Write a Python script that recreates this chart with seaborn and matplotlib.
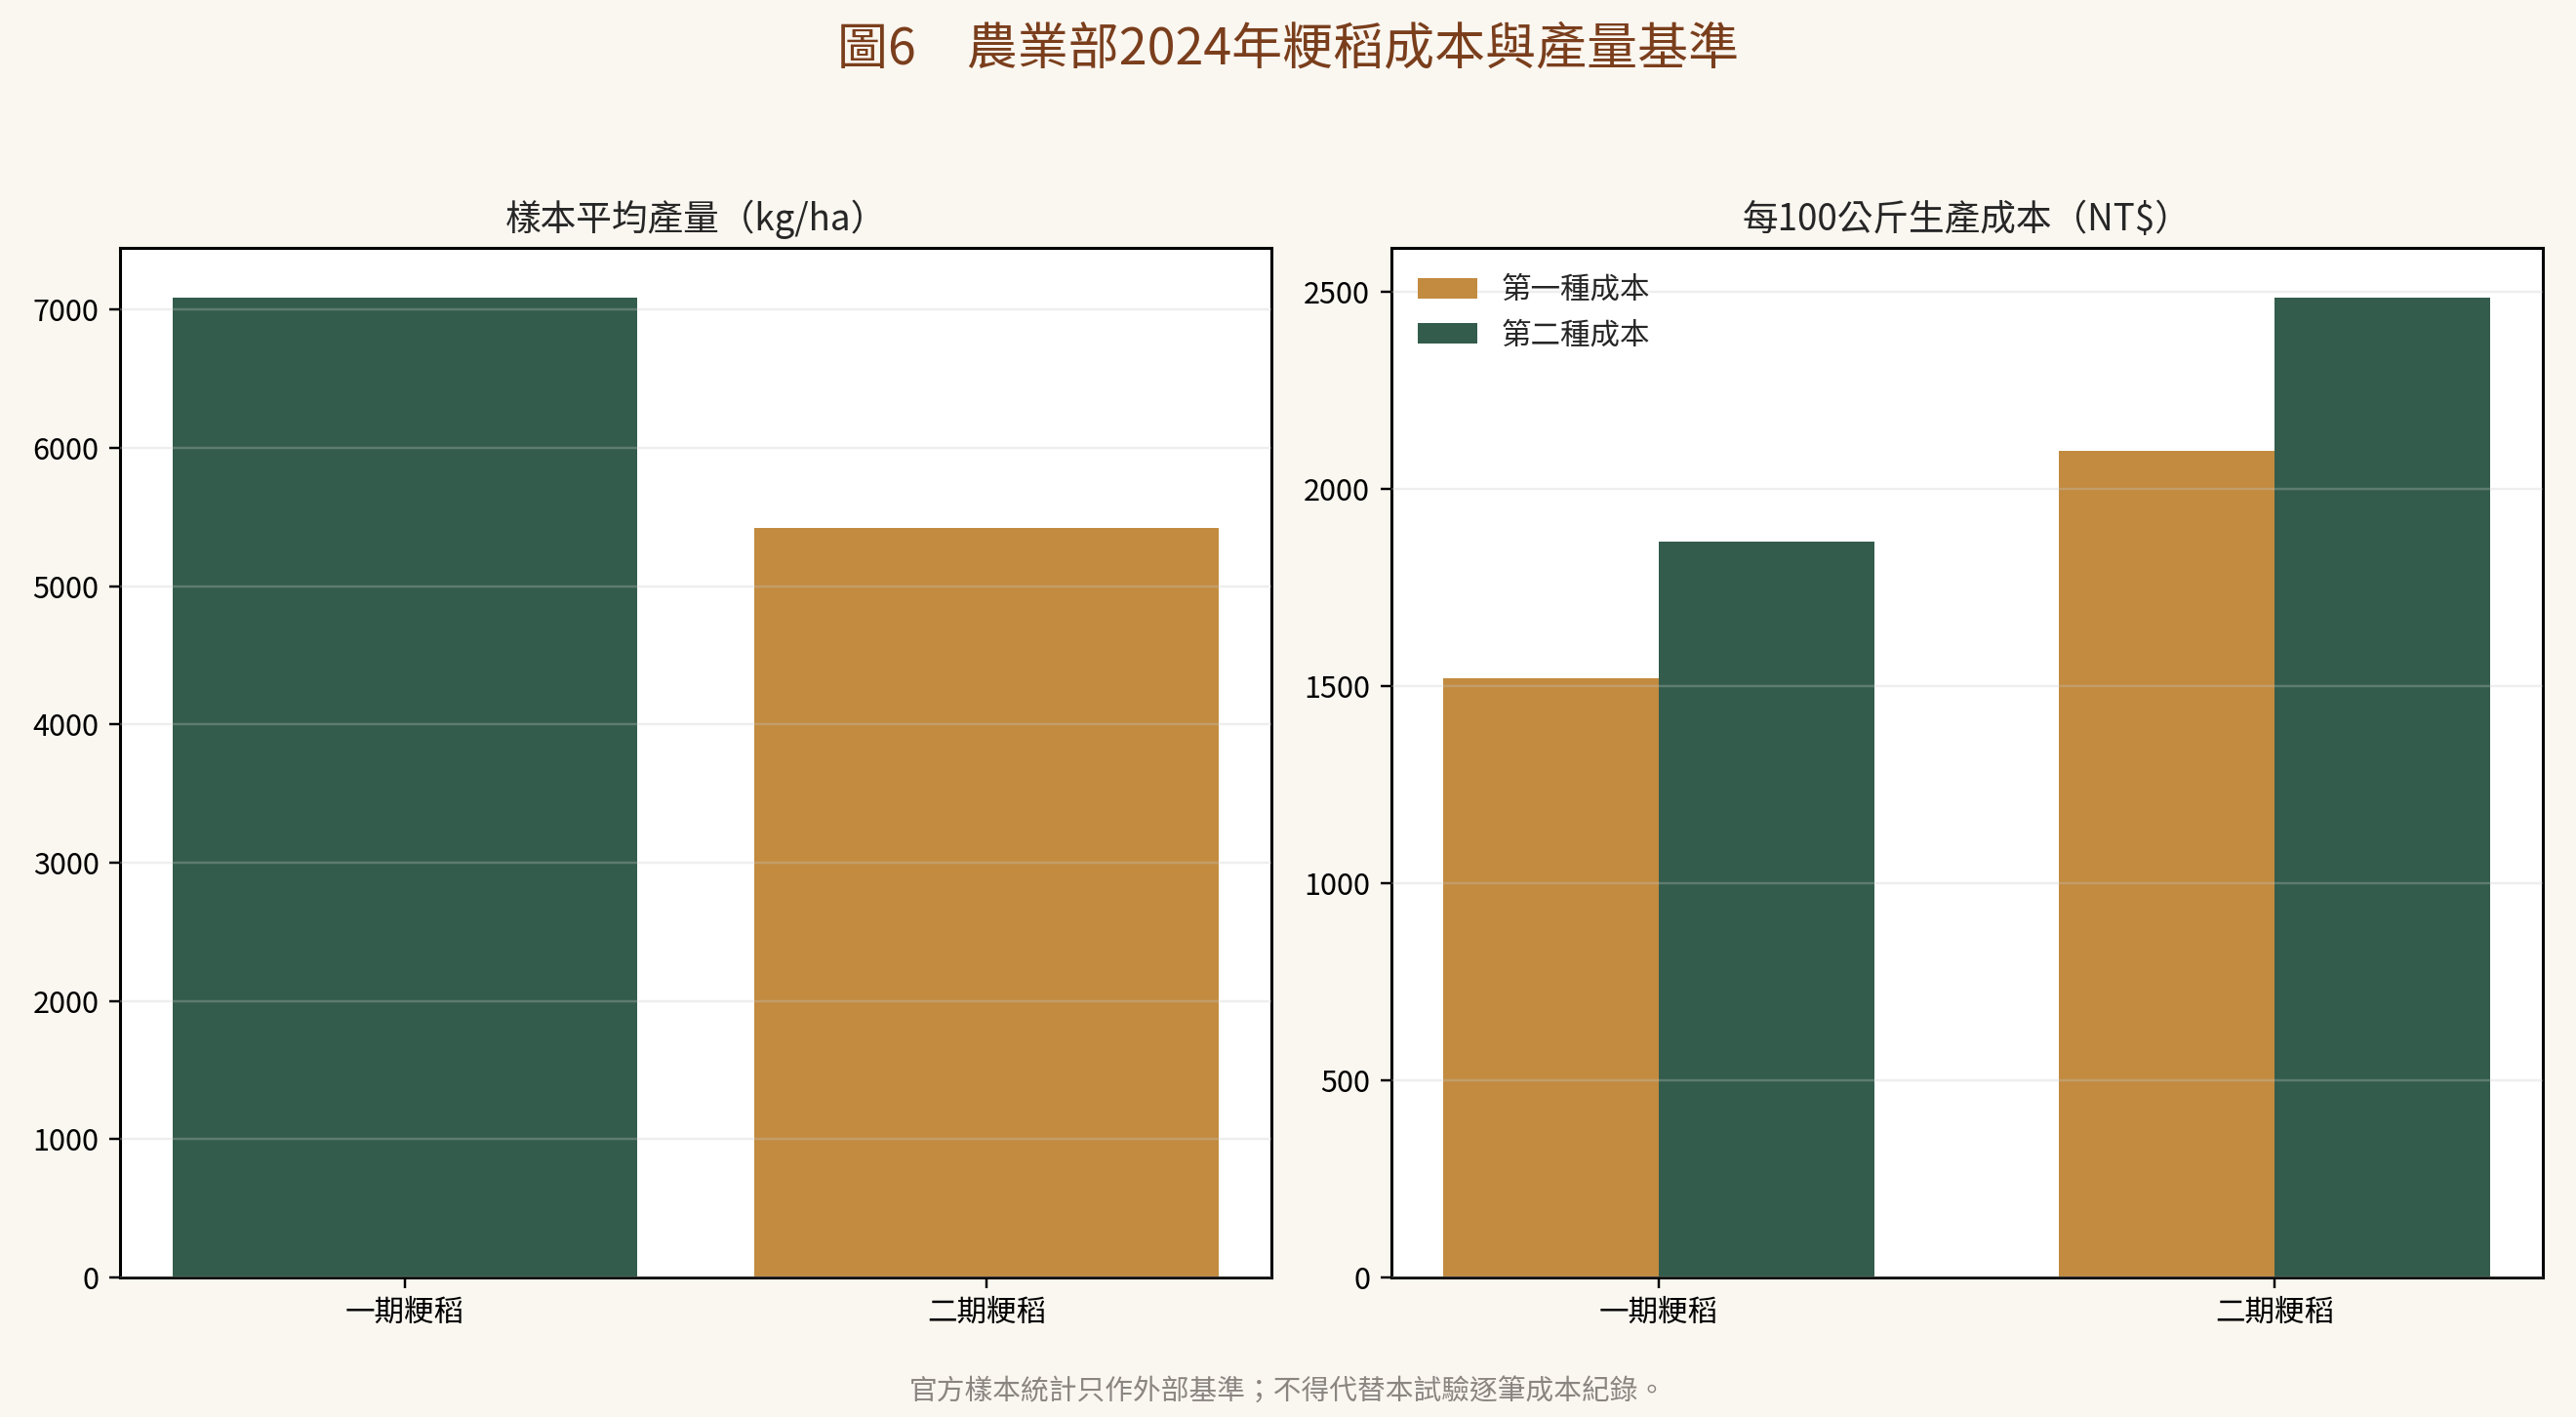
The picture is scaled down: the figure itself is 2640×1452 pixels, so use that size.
import matplotlib
matplotlib.use("Agg")
import matplotlib.pyplot as plt
import seaborn as sns
import pandas as pd

GREEN = "#335C4C"
GOLD = "#C28B40"
BG = "#FAF6F0"

seasons = ["一期粳稻", "二期粳稻"]
yield_kg_ha = [7090, 5420]

cost_types = ["第一種成本", "第二種成本"]
cost_first = [1520, 2096]
cost_second = [1866, 2487]

sns.set_style("ticks")
plt.rcParams["font.family"] = ["Noto Sans CJK TC", "DejaVu Sans"]
plt.rcParams["axes.unicode_minus"] = False

fig = plt.figure(figsize=(12, 6.6), dpi=220, facecolor=BG)
ax1 = fig.add_axes([0.0466, 0.0986, 0.447, 0.7262])
ax2 = fig.add_axes([0.540, 0.0986, 0.447, 0.7262])

# left: yield
sns.barplot(x=seasons, y=yield_kg_ha, hue=seasons, palette=[GREEN, GOLD],
            legend=False, width=0.8, saturation=1, linewidth=0, ax=ax1)
ax1.set_xlim(-0.49, 1.49)
ax1.set_ylim(0, max(yield_kg_ha) * 1.05)
ax1.set_title("樣本平均產量（kg/ha）", fontsize=12, pad=6)

# right: cost per 100 kg
df = pd.DataFrame({
    "season": seasons * 2,
    "cost": cost_first + cost_second,
    "type": [cost_types[0]] * 2 + [cost_types[1]] * 2,
})
sns.barplot(data=df, x="season", y="cost", hue="type", palette=[GOLD, GREEN],
            width=0.7, saturation=1, linewidth=0, ax=ax2)
ax2.set_xlim(-0.435, 1.435)
ax2.set_ylim(0, df["cost"].max() * 1.05)
ax2.set_title("每100公斤生產成本（NT$）", fontsize=12, pad=6)
ax2.legend(loc="upper left", frameon=False, fontsize=10, handlelength=2.0,
           borderaxespad=0.5)

for ax in (ax1, ax2):
    ax.set_facecolor("white")
    ax.set_xlabel("")
    ax.set_ylabel("")
    ax.grid(axis="y", color="#c8c8c8", alpha=0.3, linewidth=0.8)
    ax.set_axisbelow(False)
    ax.tick_params(labelsize=10, colors="black", length=3.5, width=0.8)
    for s in ax.spines.values():
        s.set_color("black")
        s.set_linewidth(1.0)
        s.set_visible(True)

fig.text(0.5, 0.965, "圖6　農業部2024年粳稻成本與產量基準", ha="center",
         va="center", fontsize=17, color="#7A3E1C")
fig.text(0.5, 0.0174, "官方樣本統計只作外部基準；不得代替本試驗逐筆成本紀錄。",
         ha="center", va="center", fontsize=9.4, color="#8A8580")

fig.savefig("out.png", dpi=220, facecolor=BG)
